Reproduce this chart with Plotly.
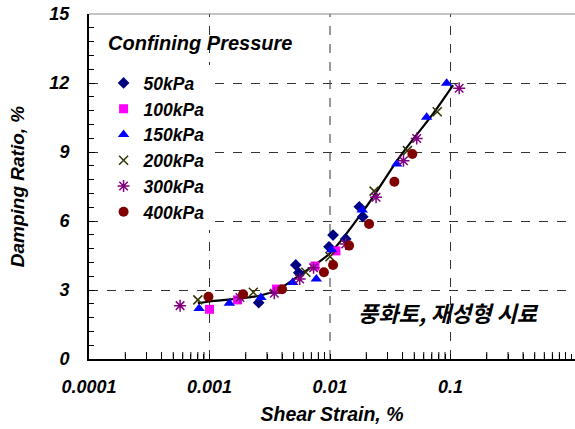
import plotly.graph_objects as go

# ---- data (shear strain %, damping ratio %) ----
x50 = [2.56e-3, 5.2e-3, 5.5e-3, 9.8e-3, 1.06e-2, 1.35e-2, 0.0175, 0.0187]
y50 = [2.45, 4.09, 3.75, 4.88, 5.39, 5.22, 6.62, 6.19]

x100 = [1.0e-3, 1.71e-3, 3.6e-3, 7.5e-3, 1.12e-2]
y100 = [2.16, 2.57, 3.04, 4.04, 4.70]

x150 = [8.2e-4, 1.46e-3, 2.67e-3, 4.9e-3, 7.7e-3, 1.03e-2, 0.0185, 0.0358, 0.0634, 0.0929]
y150 = [2.20, 2.42, 2.67, 3.33, 3.48, 4.75, 6.48, 8.48, 10.51, 11.99]

x200 = [8.0e-4, 2.31e-3, 6.3e-3, 1.0e-2, 0.0232, 0.0439, 0.0776]
y200 = [2.57, 2.90, 3.77, 4.45, 7.30, 9.06, 10.75]

x300 = [5.7e-4, 1.79e-3, 3.45e-3, 5.6e-3, 7.3e-3, 1.35e-2, 0.0241, 0.0407, 0.0524, 0.118]
y300 = [2.32, 2.67, 2.86, 3.48, 3.97, 5.00, 7.03, 8.62, 9.59, 11.77]

x400 = [9.8e-4, 1.9e-3, 4.0e-3, 8.9e-3, 1.06e-2, 1.44e-2, 0.0211, 0.0342, 0.0482]
y400 = [2.71, 2.81, 3.03, 3.77, 4.09, 4.93, 5.87, 7.71, 8.91]

xfit = [8.0e-4, 1.0e-3, 2.6e-3, 3.85e-3, 5.6e-3, 1.0e-2, 0.020, 0.038, 0.072, 0.105]
yfit = [2.43, 2.50, 2.75, 3.07, 3.65, 4.60, 6.62, 8.80, 10.68, 11.91]

series_names = ["50kPa", "100kPa", "150kPa", "200kPa", "300kPa", "400kPa"]
xtickvals = [0.0001, 0.001, 0.01, 0.1, 1]
xticktext = ["0.0001", "0.001", "0.01", "0.1", "1"]
ytickvals = [0, 3, 6, 9, 12, 15]
minor_mult = [2, 3, 4, 5, 6, 7, 8, 9]

FONT = "Liberation Sans, Arial, sans-serif"
def bi(size):
    return dict(family=FONT, size=size, color="black", weight="bold", style="italic")

YRANGE = [ytickvals[0], ytickvals[-1]]
XRANGE = [-4, 0.033]

# all x ticks (decades labelled, intermediate ones unlabelled)
all_tickvals, all_ticktext, minor_vals = [], [], []
for d, t in zip(xtickvals, xticktext):
    all_tickvals.append(d)
    all_ticktext.append(t)
    if d < xtickvals[-1]:
        for m in minor_mult:
            all_tickvals.append(d * m)
            all_ticktext.append("")
            minor_vals.append(d * m)

fig = go.Figure()

# vertical dashed gridlines at interior decades
for d in xtickvals[1:-1]:
    fig.add_trace(go.Scatter(x=[d, d], y=YRANGE, mode="lines",
                             line=dict(color="#333333", width=1, dash="dash"),
                             showlegend=False, hoverinfo="skip"))

# inside minor tick marks along the bottom axis (lower half clipped by the plot area)
fig.add_trace(go.Scatter(x=minor_vals, y=[YRANGE[0]] * len(minor_vals), mode="markers",
                         marker=dict(symbol="line-ns-open", size=10, color="black",
                                     line=dict(width=1, color="black")),
                         cliponaxis=True, showlegend=False, hoverinfo="skip"))

fig.add_trace(go.Scatter(x=xfit, y=yfit, mode="lines",
                         line=dict(color="black", width=2.2, shape="spline", smoothing=0.8),
                         showlegend=False, hoverinfo="skip"))

styles = [
    (x50, y50, dict(symbol="diamond", size=9, color="#000080")),
    (x100, y100, dict(symbol="square", size=9, color="#FF00FF")),
    (x150, y150, dict(symbol="triangle-up", size=10, color="#0000FF")),
    (x200, y200, dict(symbol="x-thin-open", size=9, color="#333300", line=dict(width=1.5, color="#333300"))),
    (x300, y300, dict(symbol="asterisk-open", size=10, color="#800080", line=dict(width=1.5, color="#800080"))),
    (x400, y400, dict(symbol="circle", size=10, color="#800000")),
]
for i, (xs, ys, mk) in enumerate(styles):
    fig.add_trace(go.Scatter(x=xs, y=ys, mode="markers", marker=mk, name=series_names[i]))

fig.update_layout(
    width=575, height=429,
    margin=dict(l=89, r=0, t=14, b=70),
    paper_bgcolor="white", plot_bgcolor="white",
    font=bi(18),
    showlegend=True,
    legend=dict(x=0.03, y=0.852, xanchor="left", yanchor="top", bgcolor="white",
                font=bi(17.5), tracegroupgap=0, itemwidth=30),
    xaxis=dict(type="log", range=XRANGE, tickmode="array", tickvals=all_tickvals, ticktext=all_ticktext,
               tickfont=bi(18), ticks="inside", ticklen=5, tickcolor="black", tickwidth=1,
               showline=True, linecolor="black", linewidth=2,
               showgrid=False,
               ticklabelstandoff=10,
               title=dict(text="Shear Strain, %", font=bi(19.5), standoff=12),
               zeroline=False),
    yaxis=dict(range=YRANGE, tickvals=ytickvals, tickfont=bi(18),
               ticks="inside", ticklen=6, tickcolor="black",
               showline=True, linecolor="black", linewidth=2,
               showgrid=True, gridcolor="#333333", griddash="dash", gridwidth=1,
               minor=dict(dtick=0.6, ticks="inside", ticklen=5, tickcolor="black", showgrid=False),
               ticklabelstandoff=14,
               title=dict(text="Damping Ratio, %", font=bi(19), standoff=20),
               zeroline=False),
    shapes=[dict(type="line", xref="paper", yref="paper", x0=0, x1=1, y0=1, y1=1,
                 line=dict(color="#888888", width=1))],
    annotations=[
        dict(text="Confining Pressure", xref="paper", yref="paper", x=0.036, y=0.915,
             xanchor="left", yanchor="middle", showarrow=False, font=bi(20)),
        dict(text="풍화토, 재성형 시료", xref="paper", yref="paper", x=0.74, y=0.135,
             xanchor="center", yanchor="middle", showarrow=False,
             font=dict(family="Noto Sans CJK KR", size=22, color="black", weight="bold", style="italic")),
    ],
)

fig.write_html("out.html")
